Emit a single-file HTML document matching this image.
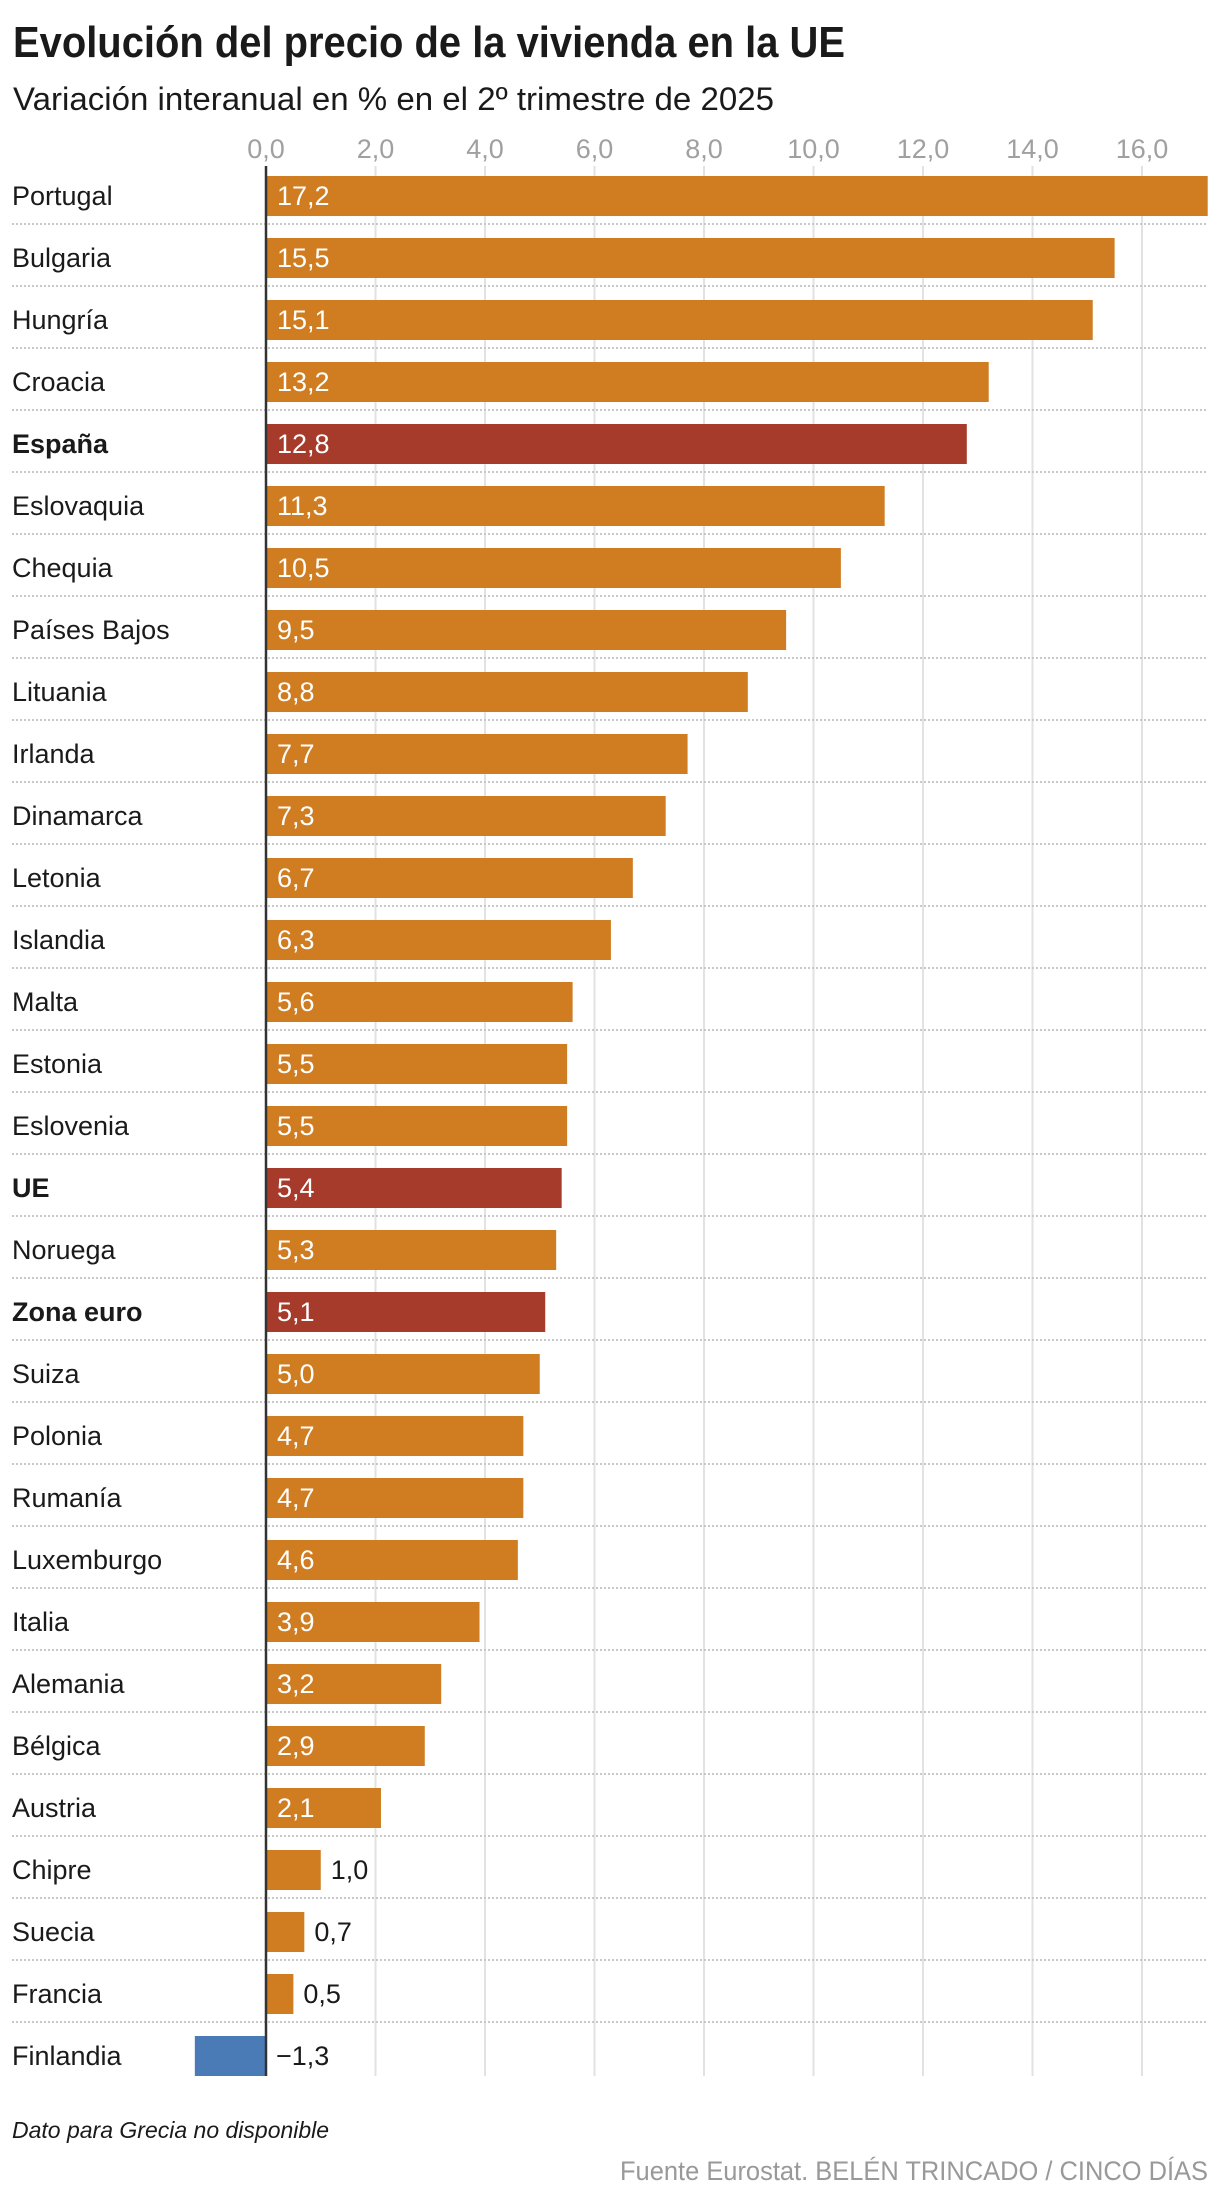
<!DOCTYPE html>
<html><head><meta charset="utf-8"><style>
html,body{margin:0;padding:0;background:#fff;}
svg{display:block;font-family:"Liberation Sans",sans-serif;}
</style></head><body>
<svg id="chart" width="1220" height="2200" viewBox="0 0 1220 2200" xmlns="http://www.w3.org/2000/svg">
<text x="13" y="57" font-size="44" font-weight="bold" fill="#1a1a1a" textLength="832" lengthAdjust="spacingAndGlyphs">Evolución del precio de la vivienda en la UE</text>
<text x="13" y="110" font-size="32" fill="#1a1a1a" textLength="761" lengthAdjust="spacingAndGlyphs">Variación interanual en % en el 2º trimestre de 2025</text>
<g id="grid"></g>
<g id="ticks"></g>
<g id="rows"></g>
<line x1="266" y1="166" x2="266" y2="2076" stroke="#333" stroke-width="2.5"/>
<text x="12" y="2138" font-size="23" font-style="italic" fill="#1a1a1a">Dato para Grecia no disponible</text>
<text x="1208" y="2180" font-size="27" fill="#999" text-anchor="end" textLength="588" lengthAdjust="spacingAndGlyphs">Fuente Eurostat. BELÉN TRINCADO / CINCO DÍAS</text>
</svg>
<script>
const countries = ["Portugal","Bulgaria","Hungría","Croacia","España","Eslovaquia","Chequia","Países Bajos","Lituania","Irlanda","Dinamarca","Letonia","Islandia","Malta","Estonia","Eslovenia","UE","Noruega","Zona euro","Suiza","Polonia","Rumanía","Luxemburgo","Italia","Alemania","Bélgica","Austria","Chipre","Suecia","Francia","Finlandia"];
const values = [17.2,15.5,15.1,13.2,12.8,11.3,10.5,9.5,8.8,7.7,7.3,6.7,6.3,5.6,5.5,5.5,5.4,5.3,5.1,5.0,4.7,4.7,4.6,3.9,3.2,2.9,2.1,1.0,0.7,0.5,-1.3];
const highlighted = ["España","UE","Zona euro"];
const tickValues = [0,2,4,6,8,10,12,14,16];

const NS = "http://www.w3.org/2000/svg";
const x0 = 266, pxPerUnit = 54.75;
const xScale = v => x0 + v * pxPerUnit;
const rowTop = i => 176 + i * 62;
const fmt = v => (v < 0 ? "\u2212" : "") + Math.abs(v).toFixed(1).replace(".", ",");
function mk(tag, attrs, parent){const e=document.createElementNS(NS,tag);for(const k in attrs)e.setAttribute(k,attrs[k]);parent.appendChild(e);return e;}

const grid = document.getElementById("grid"), ticks = document.getElementById("ticks"), rows = document.getElementById("rows");
tickValues.forEach(t => {
  const x = xScale(t);
  if (t !== 0) {
    const l = mk("line",{x1:x,y1:166,x2:x,y2:2076,stroke:"#e2e2e2","stroke-width":2},grid);
    
    
  }
  const tx = mk("text",{x:x,y:158,"font-size":27,fill:"#a0a0a0","text-anchor":"middle"},ticks);
  tx.textContent = fmt(t);
  
  
});
countries.forEach((c, i) => {
  const top = rowTop(i), v = values[i];
  if (i > 0) {
    const s = mk("line",{x1:12,y1:top-14,x2:1208,y2:top-14,stroke:"#c8c8c8","stroke-width":2,"stroke-dasharray":"2,2"},grid);
    
    
  }
  const bold = highlighted.includes(c);
  const lab = mk("text",{x:12,y:top+29,"font-size":27,fill:"#1a1a1a","font-weight":bold?"bold":"normal"},rows);
  lab.textContent = c;
  
  
  const xa = xScale(Math.min(0,v)), xb = xScale(Math.max(0,v));
  const color = v < 0 ? "#4A7BB7" : (bold ? "#A63A2B" : "#D07C20");
  const r = mk("rect",{x:xa,y:top,width:xb-xa,height:40,fill:color},rows);
  
  
  const inside = v >= 2;
  const vx = inside ? x0 + 11 : (v < 0 ? x0 + 10 : xb + 10);
  const vt = mk("text",{x:vx,y:top+29,"font-size":27,fill:inside?"#fff":"#1a1a1a"},rows);
  vt.textContent = fmt(v);
  
  
});
</script>
</body></html>
